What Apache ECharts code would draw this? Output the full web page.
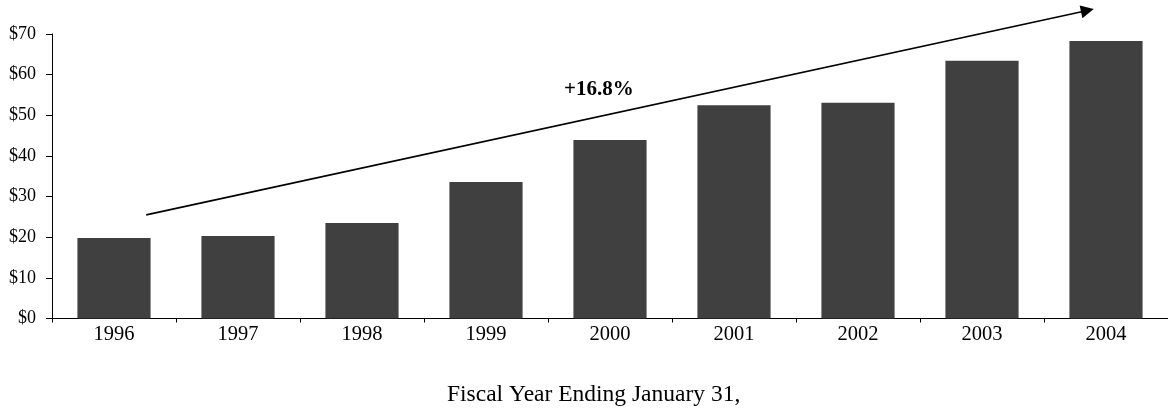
<!DOCTYPE html>
<html>
<head>
<meta charset="utf-8">
<script src="https://cdn.jsdelivr.net/npm/echarts@6/dist/echarts.min.js"></script>
<style>
  html, body { margin: 0; padding: 0; background: #fff; }
  #chart { width: 1168px; height: 409px; }
</style>
</head>
<body>
<div id="chart"></div>
<script>
var years = ['1996', '1997', '1998', '1999', '2000', '2001', '2002', '2003', '2004'];
var sales = [19.8, 20.3, 23.5, 33.6, 43.9, 52.5, 53.1, 63.4, 68.3];
var yTicks = [0, 10, 20, 30, 40, 50, 60, 70];
// trend arrow, in (category position, $) units
var arrowStart = [0.26, 25.5];
var arrowEnd = [7.85, 75.8];
var growthLabel = '+16.8%';
var xTitle = 'Fiscal Year Ending January 31,';

var serif = '"Liberation Serif", "Times New Roman", serif';
var chart = echarts.init(document.getElementById('chart'));

var option = {
    animation: false,
    backgroundColor: '#fff',
    title: {
        text: xTitle,
        left: 447,
        top: 383,
        padding: 0,
        textStyle: { fontFamily: serif, fontSize: 23.5, fontWeight: 'normal', color: '#000' }
    },
    graphic: [{
        type: 'text',
        left: 564,
        top: 79,
        style: { text: growthLabel, font: 'bold 21px ' + serif, fill: '#000' }
    }],
    grid: { left: 52, top: 34, width: 1119, bottom: 90.5 },
    xAxis: [{
        type: 'category',
        data: years,
        axisLine: { onZero: false, lineStyle: { color: '#000', width: 1 } },
        axisTick: { show: true, length: 4, lineStyle: { color: '#000' } },
        axisLabel: { color: '#000', fontFamily: serif, fontSize: 20.5, margin: 6 }
    }, {
        type: 'value',
        min: -0.5,
        max: 8.5,
        show: false
    }],
    yAxis: {
        type: 'value',
        min: yTicks[0],
        max: yTicks[yTicks.length - 1],
        interval: 10,
        splitLine: { show: false },
        axisLine: { show: true, onZero: false, lineStyle: { color: '#000', width: 1 } },
        axisTick: { show: true, length: 6, lineStyle: { color: '#000' } },
        axisLabel: {
            color: '#000', fontFamily: serif, fontSize: 18, margin: 16,
            formatter: function (v) { return '$' + v; }
        }
    },
    series: [{
        type: 'bar',
        data: sales,
        barWidth: '59%',
        itemStyle: { color: '#404040' }
    }, {
        type: 'lines',
        coordinateSystem: 'cartesian2d',
        xAxisIndex: 1,
        yAxisIndex: 0,
        clip: false,
        symbol: ['none', 'triangle'],
        symbolSize: [11, 13],
        lineStyle: { color: '#000', width: 1.6, opacity: 1 },
        data: [{ coords: [arrowStart, arrowEnd] }]
    }]
};
chart.setOption(option);
</script>
</body>
</html>
